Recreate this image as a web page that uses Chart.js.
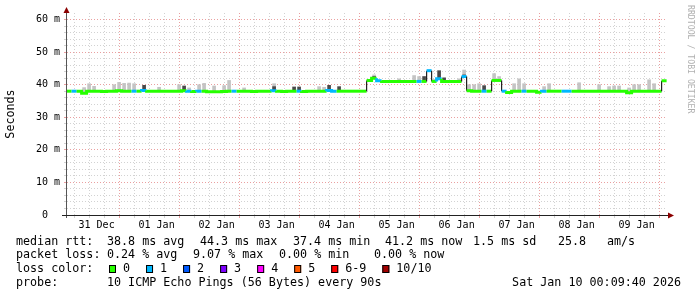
<!DOCTYPE html>
<html>
<head>
<meta charset="utf-8">
<script src="https://cdn.jsdelivr.net/npm/chart.js@4.4.1/dist/chart.umd.min.js"></script>
<style>
html, body { margin: 0; padding: 0; background: #fff; }
#wrap { width: 697px; height: 297px; position: relative; }
</style>
</head>
<body>
<div id="wrap"><canvas id="smoke-chart"></canvas></div>
<script>
// one value per 2 hour bin, starting Dec 31 00:00 (hours on the x axis)
const dayLabels = ['31 Dec', '01 Jan', '02 Jan', '03 Jan', '04 Jan', '05 Jan', '06 Jan', '07 Jan', '08 Jan', '09 Jan'];
const yLabels = ['0  ', '10 m', '20 m', '30 m', '40 m', '50 m', '60 m'];

const median = [
    38.0, 38.0, 38.0, 37.4, 38.0, 38.0, 38.0, 37.9, 38.0, 38.0, 38.1, 38.0, 38.0, 38.0, 38.0, 38.2, 38.0, 38.0, 38.0, 38.0,
    38.0, 38.0, 38.0, 38.1, 38.0, 37.9, 38.0, 38.0, 37.8, 37.8, 37.8, 37.9, 38.0, 38.0, 38.0, 38.0, 38.0, 37.9, 38.0, 38.0,
    38.0, 38.1, 38.0, 37.9, 38.0, 38.0, 38.0, 37.9, 38.0, 38.0, 38.0, 38.0, 38.2, 38.0, 38.0, 38.0, 38.0, 38.0, 38.0, 38.0,
    41.3, 42.0, 41.2, 41.0, 41.0, 41.0, 41.0, 41.0, 41.0, 41.0, 41.0, 41.0, 44.3, 41.0, 41.8, 41.0, 41.0, 41.0, 41.0, 42.5,
    38.1, 38.0, 38.0, 38.0, 38.0, 41.3, 41.3, 38.0, 37.6, 38.0, 38.0, 38.0, 38.0, 38.0, 37.7, 38.0, 38.0, 38.0, 38.0, 38.0,
    38.0, 38.0, 38.0, 38.0, 38.0, 38.0, 38.0, 38.0, 38.0, 38.0, 38.0, 38.0, 37.5, 38.0, 38.0, 38.0, 38.0, 38.0, 38.0, 41.2
];
const lossCount = [
    0, 1, 0, 0, 0, 0, 0, 0, 0, 0, 0, 0, 0, 1, 0, 1, 0, 0, 0, 0,
    0, 0, 0, 0, 1, 0, 1, 0, 0, 0, 0, 0, 0, 1, 0, 0, 0, 0, 0, 0,
    0, 1, 0, 0, 0, 0, 1, 0, 0, 0, 0, 0, 1, 1, 0, 0, 0, 0, 0, 0,
    0, 0, 1, 0, 0, 0, 0, 0, 0, 0, 1, 0, 1, 0, 1, 0, 0, 0, 0, 1,
    0, 0, 0, 1, 0, 0, 0, 1, 0, 0, 0, 1, 0, 0, 0, 1, 0, 0, 0, 1,
    1, 0, 0, 0, 0, 0, 0, 0, 0, 0, 0, 0, 0, 0, 0, 0, 0, 0, 0, 0
];
const smokeTop = [
    null, null, null, 39.1, 40.3, 39.5, null, null, null, 40.0, 40.7, 40.4, 40.5, 40.3, null, null, null, null, 39.2, null,
    null, null, 40.0, null, 39.0, null, 40.0, 40.4, null, 39.6, null, 39.7, 41.3, null, null, 39.0, null, null, null, null,
    null, 40.3, null, null, null, null, null, null, null, null, 39.4, 39.2, null, null, null, null, null, null, null, null,
    null, 43.0, null, null, null, null, 41.8, null, null, 42.8, 42.5, null, null, 41.6, null, null, null, null, 41.8, 44.5,
    40.0, 40.0, 40.3, null, null, 43.4, 42.5, null, null, 40.3, 41.8, 40.3, null, null, null, 39.4, 40.3, null, null, null,
    null, null, 40.6, null, null, null, 40.0, null, 39.4, 39.6, 39.6, null, 39.0, 40.0, 40.0, null, 41.5, 40.3, null, null
];
const darkSmokeTop = [
    null, null, null, null, null, null, null, null, null, null, null, null, null, null, null, 39.8, null, null, null, null,
    null, null, null, 39.6, null, null, null, null, null, null, null, null, null, null, null, null, null, null, null, null,
    null, 39.4, null, null, null, 39.3, 39.3, null, null, null, null, null, 39.8, null, 39.4, null, null, null, null, null,
    null, 42.5, null, null, null, null, null, null, null, null, null, 42.5, null, null, 44.3, 42.1, null, null, null, 43.0,
    null, null, null, 39.7, null, null, null, null, null, null, null, null, null, null, null, null, null, null, null, null,
    null, null, null, null, null, null, null, null, null, null, null, null, null, null, null, null, null, null, null, null
];

const lossNames = ['0', '1', '2', '3', '4', '5', '6-9', '10/10'];
const lossColors = ['#26ff00', '#00b8ff', '#0059ff', '#7e00ff', '#ff00ff', '#ff5a00', '#ff0000', '#a10000'];

const MONO = '"DejaVu Sans Mono", monospace';
const MAJOR = 'rgba(225,120,120,0.7)';
const MINOR = 'rgba(195,195,195,0.75)';

// median as flat steps, one pair of points per bin
const medianPoints = [];
median.forEach((v, i) => {
    medianPoints.push({ x: i * 2, y: v });
    medianPoints.push({ x: i * 2 + 2, y: v });
});
const smokeBars = [];
smokeTop.forEach((v, i) => {
    if (v !== null) smokeBars.push({ x: i * 2 + 1, y: [median[i], v] });
});
const darkBars = [];
darkSmokeTop.forEach((v, i) => {
    if (v !== null) darkBars.push({ x: i * 2 + 1, y: [median[i], v] });
});

function isJump(ctx) {
    const a = Math.floor(ctx.p0DataIndex / 2), b = Math.floor(ctx.p1DataIndex / 2);
    return a !== b && Math.abs(median[a] - median[b]) > 0.9;
}

const frame = {
    id: 'frame',
    afterDraw(chart) {
        const c = chart.ctx;
        const a = chart.chartArea;
        c.save();
        // axes
        c.lineWidth = 1;
        c.strokeStyle = '#555';
        c.beginPath();
        c.moveTo(66.5, a.bottom + 3);
        c.lineTo(66.5, 9);
        c.stroke();
        c.strokeStyle = '#222';
        c.beginPath();
        c.moveTo(62, 215.5);
        c.lineTo(670, 215.5);
        c.stroke();
        // arrows
        c.fillStyle = '#8b0000';
        c.beginPath();
        c.moveTo(66.5, 7); c.lineTo(63.5, 13); c.lineTo(69.5, 13); c.closePath(); c.fill();
        c.beginPath();
        c.moveTo(674, 215.5); c.lineTo(668, 212.5); c.lineTo(668, 218.5); c.closePath(); c.fill();

        // watermark
        c.save();
        c.translate(690, 5);
        c.rotate(Math.PI / 2);
        c.font = '8.2px ' + MONO;
        c.fillStyle = '#b0b0b0';
        c.textBaseline = 'middle';
        c.fillText('RRDTOOL / TOBI OETIKER', 0, 0);
        c.restore();

        // legend text
        c.font = '11.7px ' + MONO;
        c.fillStyle = '#000';
        c.textBaseline = 'middle';
        c.textAlign = 'left';
        const rows = [
            [241.7, [['median rtt:', 16], ['38.8 ms avg', 107], ['44.3 ms max', 200], ['37.4 ms min', 293],
                     ['41.2 ms now', 385], ['1.5 ms sd', 473], ['25.8', 558], ['am/s', 607]]],
            [255, [['packet loss:', 16], ['0.24 % avg', 107], ['9.07 % max', 193], ['0.00 % min', 279], ['0.00 % now', 374]]],
            [269.3, [['loss color:', 16]]],
            [282.7, [['probe:', 16], ['10 ICMP Echo Pings (56 Bytes) every 90s', 107]]]
        ];
        rows.forEach(([y, parts]) => parts.forEach(([t, x]) => c.fillText(t, x, y)));

        let bx = 109;
        lossNames.forEach((name, k) => {
            c.fillStyle = lossColors[k];
            c.fillRect(bx, 265, 7, 8);
            c.strokeStyle = '#000';
            c.strokeRect(bx + 0.5, 265.5, 6, 7);
            c.fillStyle = '#000';
            c.fillText(name, bx + 14, 269.3);
            bx += 14 + c.measureText(name).width + 16;
        });

        c.textAlign = 'right';
        c.fillText('Sat Jan 10 00:09:40 2026', 681, 282.7);
        c.restore();
    }
};

const ctx = document.getElementById('smoke-chart').getContext('2d');
new Chart(ctx, {
    type: 'line',
    data: {
        datasets: [{
            type: 'line',
            data: medianPoints,
            order: 0,
            borderWidth: 3,
            borderColor: lossColors[0],
            borderCapStyle: 'butt',
            pointRadius: 0,
            tension: 0,
            segment: {
                borderColor: c => isJump(c) ? '#222' : lossColors[lossCount[Math.floor(c.p1DataIndex / 2)]],
                borderWidth: c => isJump(c) ? 1.2 : 3
            }
        }, {
            type: 'bar',
            data: darkBars,
            order: 1,
            backgroundColor: '#4a4a4a',
            barThickness: 3,
            grouped: false,
            borderWidth: 0
        }, {
            type: 'bar',
            data: smokeBars,
            order: 2,
            backgroundColor: '#c4c4c4',
            barThickness: 3,
            grouped: false,
            borderWidth: 0
        }]
    },
    options: {
        responsive: true,
        maintainAspectRatio: false,
        animation: false,
        events: [],
        layout: { padding: { left: 0, right: 30, top: 13, bottom: 64 } },
        plugins: {
            legend: { display: false },
            tooltip: { enabled: false }
        },
        scales: {
            x: {
                type: 'linear',
                min: 0.16,
                max: 240.16,
                offset: false,
                afterBuildTicks: s => {
                    const t = [];
                    for (let h = 6; h <= 240; h += 6) t.push({ value: h });
                    s.ticks = t;
                },
                afterFit: s => { s.height = 18; },
                ticks: {
                    autoSkip: false,
                    maxRotation: 0,
                    padding: 1,
                    color: '#000',
                    font: { family: MONO, size: 10 },
                    callback: v => v % 24 === 12 ? dayLabels[(v - 12) / 24] : ''
                },
                grid: {
                    color: c => c.tick && c.tick.value % 24 === 0 ? MAJOR : MINOR,
                    tickLength: 3
                },
                border: { display: false, dash: [1, 2] }
            },
            y: {
                min: 0,
                max: 62,
                afterBuildTicks: s => {
                    const t = [];
                    for (let v = 0; v <= 60; v += 2) t.push({ value: v });
                    s.ticks = t;
                },
                afterFit: s => { s.width = 67; },
                ticks: {
                    autoSkip: false,
                    padding: 4,
                    color: '#000',
                    font: { family: MONO, size: 10 },
                    callback: v => v % 10 === 0 ? yLabels[v / 10] : ''
                },
                grid: {
                    color: c => c.tick && c.tick.value % 10 === 0 ? MAJOR : MINOR,
                    tickLength: 3
                },
                border: { display: false, dash: [1, 2] },
                title: {
                    display: true,
                    text: 'Seconds',
                    color: '#000',
                    font: { family: MONO, size: 11.7 },
                    padding: { top: 4, bottom: 0 }
                }
            }
        }
    },
    plugins: [frame]
});
</script>
</body>
</html>
